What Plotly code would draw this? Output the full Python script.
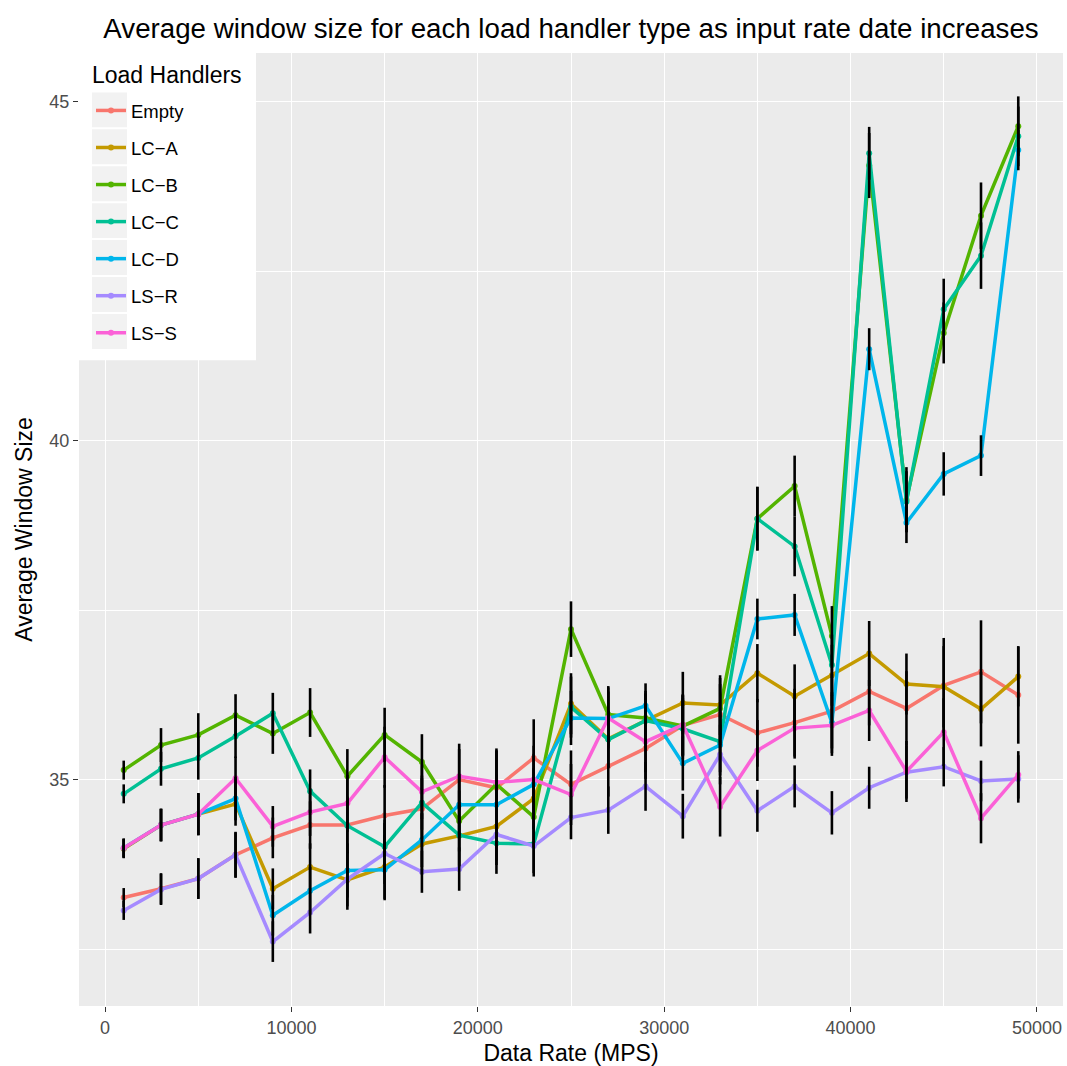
import plotly.graph_objects as go

x_rate = [1000, 3000, 5000, 7000, 9000, 11000, 13000, 15000, 17000, 19000, 21000, 23000, 25000,
          27000, 29000, 31000, 33000, 35000, 37000, 39000, 41000, 43000, 45000, 47000, 49000]

series_names = ["Empty", "LC\u2212A", "LC\u2212B", "LC\u2212C", "LC\u2212D", "LS\u2212R", "LS\u2212S"]
series_colors = ["#F8766D", "#C49A00", "#53B400", "#00C094", "#00B6EB", "#A58AFF", "#FB61D7"]

empty_vals = [33.26, 33.39, 33.54, 33.89, 34.14, 34.33, 34.33, 34.47, 34.57, 35.00, 34.88, 35.32, 34.93,
              35.20, 35.46, 35.80, 35.96, 35.69, 35.84, 36.01, 36.30, 36.05, 36.39, 36.59, 36.25]
lca_vals = [33.98, 34.33, 34.49, 34.64, 33.39, 33.71, 33.52, 33.71, 34.05, 34.17, 34.31, 34.72, 36.12,
            35.60, 35.87, 36.13, 36.10, 36.57, 36.23, 36.54, 36.86, 36.41, 36.37, 36.04, 36.52]
lcb_vals = [35.14, 35.51, 35.66, 35.95, 35.68, 35.99, 35.05, 35.66, 35.26, 34.39, 34.93, 34.45, 37.22,
            35.96, 35.91, 35.79, 36.05, 38.85, 39.33, 37.12, 44.06, 39.13, 41.59, 43.32, 44.64]
lcc_vals = [34.79, 35.16, 35.32, 35.64, 35.98, 34.83, 34.32, 34.01, 34.66, 34.18, 34.06, 34.05, 36.07,
            35.59, 35.87, 35.75, 35.56, 38.85, 38.44, 36.69, 44.24, 39.10, 41.94, 42.73, 44.49]
lcd_vals = [33.99, 34.33, 34.49, 34.72, 33.00, 33.36, 33.66, 33.67, 34.11, 34.63, 34.63, 34.93, 35.91,
            35.90, 36.09, 35.24, 35.51, 37.37, 37.43, 35.84, 41.35, 38.79, 39.51, 39.78, 44.29]
lsr_vals = [33.07, 33.38, 33.54, 33.89, 32.61, 33.04, 33.53, 33.91, 33.64, 33.68, 34.19, 34.02, 34.44,
            34.55, 34.90, 34.46, 35.37, 34.54, 34.90, 34.51, 34.88, 35.11, 35.19, 34.98, 35.01]
lss_vals = [33.99, 34.33, 34.49, 35.02, 34.31, 34.52, 34.65, 35.33, 34.82, 35.05, 34.96, 35.00, 34.78,
            35.91, 35.56, 35.81, 34.60, 35.43, 35.76, 35.80, 36.02, 35.12, 35.70, 34.43, 35.07]

empty_err = [0.14, 0.23, 0.30, 0.34, 0.30, 0.35, 0.42, 0.45, 0.45, 0.45, 0.55, 0.57, 0.50, 0.45, 0.45,
             0.45, 0.45, 0.50, 0.50, 0.55, 0.50, 0.55, 0.70, 0.76, 0.72]
lca_err = [0.14, 0.24, 0.31, 0.32, 0.30, 0.35, 0.44, 0.47, 0.45, 0.45, 0.50, 0.45, 0.45, 0.42, 0.40,
           0.46, 0.44, 0.43, 0.47, 0.45, 0.48, 0.45, 0.60, 0.55, 0.44]
lcb_err = [0.14, 0.25, 0.32, 0.31, 0.30, 0.36, 0.40, 0.40, 0.41, 0.45, 0.50, 0.45, 0.41, 0.42, 0.40,
           0.45, 0.45, 0.47, 0.45, 0.44, 0.48, 0.48, 0.45, 0.49, 0.44]
lcc_err = [0.14, 0.25, 0.32, 0.32, 0.30, 0.32, 0.40, 0.40, 0.40, 0.45, 0.45, 0.43, 0.45, 0.42, 0.40,
           0.45, 0.45, 0.47, 0.44, 0.45, 0.39, 0.45, 0.45, 0.49, 0.44]
lcd_err = [0.14, 0.24, 0.31, 0.32, 0.30, 0.35, 0.40, 0.45, 0.40, 0.45, 0.45, 0.45, 0.40, 0.40, 0.33,
           0.40, 0.45, 0.30, 0.31, 0.45, 0.31, 0.30, 0.32, 0.30, 0.30]
lsr_err = [0.14, 0.23, 0.30, 0.33, 0.30, 0.31, 0.40, 0.45, 0.31, 0.32, 0.45, 0.45, 0.32, 0.35, 0.36,
           0.33, 0.44, 0.31, 0.31, 0.32, 0.31, 0.39, 0.29, 0.30, 0.35]
lss_err = [0.14, 0.24, 0.31, 0.32, 0.30, 0.35, 0.42, 0.45, 0.40, 0.48, 0.50, 0.50, 0.45, 0.45, 0.45,
           0.45, 0.44, 0.45, 0.45, 0.45, 0.45, 0.45, 0.50, 0.37, 0.35]

all_vals = [empty_vals, lca_vals, lcb_vals, lcc_vals, lcd_vals, lsr_vals, lss_vals]
all_errs = [empty_err, lca_err, lcb_err, lcc_err, lcd_err, lsr_err, lss_err]

FONT = "Liberation Sans, Arial, Helvetica, sans-serif"
W, H = 1067, 1066
ML, MR, MT, MB = 79, 4, 53, 58
PW, PH = W - ML - MR, H - MT - MB


def px_x(p):
    return (p - ML) / PW


def px_y(p):
    return 1 - (p - MT) / PH


fig = go.Figure()

for name, color, vals in zip(series_names, series_colors, all_vals):
    fig.add_trace(go.Scatter(
        x=x_rate, y=vals, name=name, mode="lines+markers",
        line=dict(color=color, width=3.5),
        marker=dict(color=color, size=6),
        legendgroup=name,
    ))

for name, vals, errs in zip(series_names, all_vals, all_errs):
    fig.add_trace(go.Scatter(
        x=x_rate, y=vals, mode="markers", showlegend=False, hoverinfo="skip",
        marker=dict(size=1, color="rgba(0,0,0,0)"),
        error_y=dict(type="data", array=errs, visible=True, color="black", thickness=2.6, width=0),
    ))

# legend box and key backgrounds (ggplot style)
shapes = [dict(type="rect", xref="paper", yref="paper", layer="above",
               x0=px_x(79), x1=px_x(256), y0=px_y(361), y1=px_y(53),
               fillcolor="white", line=dict(width=0))]
for k in range(len(series_names)):
    yc = 110 + 37 * k
    shapes.append(dict(type="rect", xref="paper", yref="paper", layer="above",
                       x0=px_x(92), x1=px_x(127), y0=px_y(yc + 17.5), y1=px_y(yc - 17.5),
                       fillcolor="#F2F2F2", line=dict(width=0)))

fig.update_layout(
    width=W, height=H,
    margin=dict(l=ML, r=MR, t=MT, b=MB),
    paper_bgcolor="white",
    plot_bgcolor="#EBEBEB",
    font=dict(family=FONT, color="black"),
    title=dict(
        text="Average window size for each load handler type as input rate date increases",
        x=0.5, xref="paper", xanchor="center",
        y=1 - 28 / H, yref="container", yanchor="middle",
        font=dict(size=27.7, color="black", family=FONT),
    ),
    legend=dict(
        font=dict(size=18.5, color="black"),
        x=px_x(91), y=px_y(92), xanchor="left", yanchor="top",
        bgcolor="rgba(0,0,0,0)",
        tracegroupgap=10,
        itemwidth=30,
    ),
    showlegend=True,
    shapes=shapes,
    annotations=[dict(text="Load Handlers", xref="paper", yref="paper",
                      x=px_x(90), y=px_y(75), xanchor="left", yanchor="middle",
                      showarrow=False, font=dict(size=23, color="black", family=FONT))],
)

fig.update_xaxes(
    range=[-1400, 51400],
    tickmode="array", tickvals=[0, 10000, 20000, 30000, 40000, 50000],
    ticktext=["0", "10000", "20000", "30000", "40000", "50000"],
    showgrid=True, gridcolor="white", gridwidth=1.4,
    minor=dict(tickvals=[5000, 15000, 25000, 35000, 45000], showgrid=True, gridcolor="white", gridwidth=0.7),
    zeroline=False, showline=False,
    ticks="outside", ticklen=5, tickwidth=1.1, tickcolor="#333333",
    tickfont=dict(size=18, color="#4D4D4D"),
    title=dict(text="Data Rate (MPS)", font=dict(size=23, color="black"), standoff=8),
)
fig.update_yaxes(
    range=[31.66, 45.72],
    tickmode="array", tickvals=[35, 40, 45], ticktext=["35", "40", "45"],
    showgrid=True, gridcolor="white", gridwidth=1.4,
    minor=dict(tickvals=[32.5, 37.5, 42.5], showgrid=True, gridcolor="white", gridwidth=0.7),
    zeroline=False, showline=False,
    ticks="outside", ticklen=5, tickwidth=1.1, tickcolor="#333333",
    tickfont=dict(size=18, color="#4D4D4D"),
    title=dict(text="Average Window Size", font=dict(size=23, color="black"), standoff=10),
)

fig.write_html("out.html")
